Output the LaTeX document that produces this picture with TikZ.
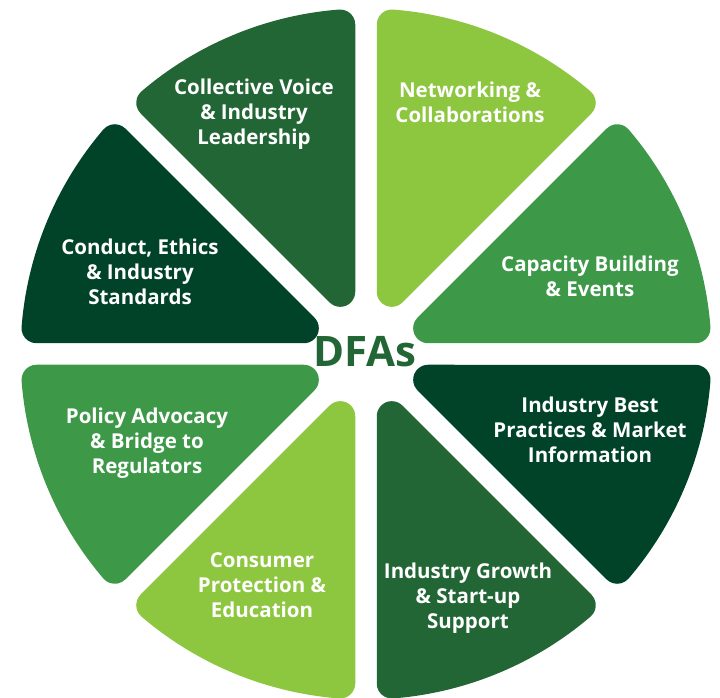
\documentclass[tikz,border=0pt]{standalone}
\usepackage{fontspec}
\setmainfont{Open Sans}
\usetikzlibrary{calc}

\definecolor{leaf}{HTML}{8DC63F}
\definecolor{grass}{HTML}{3D9948}
\definecolor{forest}{HTML}{236636}
\definecolor{pine}{HTML}{004329}

% One 45-degree slice of the wheel, starting at angle #1, filled with #2.
% Half gap 10.75pt, outer radius 345.5pt, fillet radius 15pt everywhere.
\newcommand{\wheelslice}[2]{%
  \fill[#2]
    ($(C)+(#1:62.17pt)+({#1+90}:10.75pt)$)
    -- ($(C)+(#1:329.495pt)+({#1+90}:10.75pt)$)
    arc[start angle={#1-90}, end angle={#1+4.4686}, radius=15pt]
    arc[start angle={#1+4.4686}, end angle={#1+45-4.4686}, radius=345.5pt]
    arc[start angle={#1+45-4.4686}, end angle={#1+135}, radius=15pt]
    -- ($(C)+({#1+45}:62.17pt)+({#1-45}:10.75pt)$)
    arc[start angle={#1+135}, end angle={#1+270}, radius=15pt]
    -- cycle;%
}

\tikzset{
  label/.style={text=white, align=center, inner sep=0pt,
    font=\fontsize{20.5}{25}\selectfont\bfseries},
  hub/.style={text=forest, inner sep=0pt,
    font=\fontsize{42}{46}\selectfont\bfseries}
}

\begin{document}
\begin{tikzpicture}[x=1pt,y=1pt]
  \useasboundingbox (0,0) rectangle (720,697);
  \coordinate (C) at (366,343);

  % slices, counter-clockwise from the right
  \wheelslice{0}{grass}
  \wheelslice{45}{leaf}
  \wheelslice{90}{forest}
  \wheelslice{135}{pine}
  \wheelslice{180}{grass}
  \wheelslice{225}{leaf}
  \wheelslice{270}{forest}
  \wheelslice{315}{pine}

  % slice captions
  \node[label] (net)  at (470,595) {Networking \&\\Collaborations};
  \node[label] (voice) at (254,583) {Collective Voice\\\& Industry\\Leadership};
  \node[label] (ethic) at (140,425) {Conduct, Ethics\\\& Industry\\Standards};
  \node[label] (cap)  at (590,421) {Capacity Building\\\& Events};
  \node[label] (best) at (590,267) {Industry Best\\Practices \& Market\\Information};
  \node[label] (pol)  at (147,254) {Policy Advocacy\\\& Bridge to\\Regulators};
  \node[label] (grow) at (468,99)  {Industry Growth\\\& Start-up\\Support};
  \node[label] (cons) at (262,112) {Consumer\\Protection \&\\Education};

  % centre title
  \node[hub] (dfa) at (365,345) {DFAs};
\end{tikzpicture}
\end{document}
